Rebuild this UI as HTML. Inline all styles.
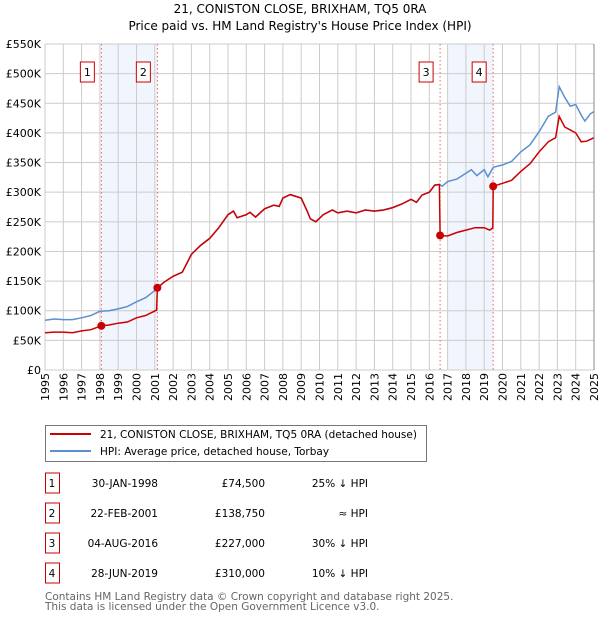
<!DOCTYPE html>
<html><head><meta charset="utf-8"><style>
body{margin:0;background:#fff;font-family:"DejaVu Sans","Liberation Sans",sans-serif;}
svg text{font-family:"DejaVu Sans","Liberation Sans",sans-serif;}
</style></head><body>
<svg id="chart" width="600" height="620" xmlns="http://www.w3.org/2000/svg">
<text x="300" y="13" text-anchor="middle" font-size="12">21, CONISTON CLOSE, BRIXHAM, TQ5 0RA</text>
<text x="300" y="30" text-anchor="middle" font-size="12">Price paid vs. HM Land Registry's House Price Index (HPI)</text>
<g id="plot"></g>
<g>
<rect x="45.5" y="425.5" width="381" height="36" fill="#fff" stroke="#777"/>
<line x1="50" y1="434" x2="91" y2="434" stroke="#cc0000" stroke-width="2"/>
<text x="100" y="438" font-size="10.5">21, CONISTON CLOSE, BRIXHAM, TQ5 0RA (detached house)</text>
<line x1="50" y1="451" x2="91" y2="451" stroke="#5b8fd0" stroke-width="2"/>
<text x="100" y="455" font-size="10.5">HPI: Average price, detached house, Torbay</text>
</g>
<g id="table"></g>
<text x="45" y="600" font-size="10.5" fill="#666">Contains HM Land Registry data © Crown copyright and database right 2025.</text>
<text x="45" y="610" font-size="10.5" fill="#666">This data is licensed under the Open Government Licence v3.0.</text>
</svg>
<script>
const yTicks=[0,50,100,150,200,250,300,350,400,450,500,550];
const yTickLabels=["£0","£50K","£100K","£150K","£200K","£250K","£300K","£350K","£400K","£450K","£500K","£550K"];
const years=[1995,1996,1997,1998,1999,2000,2001,2002,2003,2004,2005,2006,2007,2008,2009,2010,2011,2012,2013,2014,2015,2016,2017,2018,2019,2020,2021,2022,2023,2024,2025];
const hpiDates=[1995,1995.5,1996,1996.5,1997,1997.5,1998,1998.5,1999,1999.5,2000,2000.5,2001,2001.5,2002,2002.5,2003,2003.5,2004,2004.5,2005,2005.3,2005.5,2006,2006.2,2006.5,2007,2007.5,2007.8,2008,2008.4,2008.8,2009,2009.3,2009.5,2009.8,2010.2,2010.7,2011,2011.5,2012,2012.5,2013,2013.5,2014,2014.5,2015,2015.3,2015.6,2016,2016.3,2016.58,2016.7,2017,2017.5,2018,2018.3,2018.6,2019,2019.2,2019.5,2020,2020.5,2021,2021.5,2022,2022.5,2022.9,2023.1,2023.4,2023.7,2024,2024.3,2024.5,2024.8,2025];
const hpiValues=[84,86,85,85,88,92,99,100,103,107,115,122,134,148,158,165,195,210,222,240,262,268,257,262,266,258,272,278,276,290,296,292,290,270,255,250,262,270,265,268,265,270,268,270,274,280,288,283,295,300,312,313,310,318,322,332,338,328,338,326,342,346,352,368,380,402,428,435,478,460,445,448,430,420,432,436];
const priceDates=[1995,1995.5,1996,1996.5,1997,1997.5,1998.08,1998.5,1999,1999.5,2000,2000.5,2001.1,2001.14,2001.5,2002,2002.5,2003,2003.5,2004,2004.5,2005,2005.3,2005.5,2006,2006.2,2006.5,2007,2007.5,2007.8,2008,2008.4,2008.8,2009,2009.3,2009.5,2009.8,2010.2,2010.7,2011,2011.5,2012,2012.5,2013,2013.5,2014,2014.5,2015,2015.3,2015.6,2016,2016.3,2016.55,2016.59,2017,2017.5,2018,2018.5,2019,2019.3,2019.47,2019.49,2020,2020.5,2021,2021.5,2022,2022.5,2022.9,2023.1,2023.4,2023.7,2024,2024.3,2024.6,2025];
const priceValues=[63,64,64,63,66,68,74.5,76,79,81,88,92,101,138.75,148,158,165,195,210,222,240,262,268,257,262,266,258,272,278,276,290,296,292,290,270,255,250,262,270,265,268,265,270,268,270,274,280,288,283,295,300,312,313,227,226,232,236,240,240,236,240,310,315,320,335,348,368,385,392,428,410,405,400,385,386,392];
const saleDates=[1998.08,2001.14,2016.59,2019.49];
const saleValues=[74.5,138.75,227,310];
const saleLabels=["1","2","3","4"];
const saleDateText=["30-JAN-1998","22-FEB-2001","04-AUG-2016","28-JUN-2019"];
const salePriceText=["£74,500","£138,750","£227,000","£310,000"];
const saleHpiText=["25% ↓ HPI","≈ HPI","30% ↓ HPI","10% ↓ HPI"];
const shadeRanges=[[1998.08,2001.14],[2017.0,2019.49]];

const NS="http://www.w3.org/2000/svg";
const X0=45,X1=594,Y0=370,Y1=44;
const xs=d=>X0+(d-1995)/30*(X1-X0);
const ys=v=>Y0-v/550*(Y0-Y1);
const plot=document.getElementById('plot');
function mk(tag,attrs,parent){const e=document.createElementNS(NS,tag);for(const k in attrs)e.setAttribute(k,attrs[k]);(parent||plot).appendChild(e);return e;}
mk('rect',{x:X0,y:Y1,width:X1-X0,height:Y0-Y1,fill:'#fff'});
shadeRanges.forEach(r=>{const e=mk('rect',{x:xs(r[0]),y:Y1,width:xs(r[1])-xs(r[0]),height:Y0-Y1,fill:'#eef3fc',opacity:0.8});

});
years.forEach(y=>{const g=mk('line',{x1:xs(y),x2:xs(y),y1:Y1,y2:Y0,stroke:'#ccc','stroke-width':1});


const tx=xs(y)+4, ty=Y0+31;
const t=mk('text',{x:tx,y:ty,'font-size':11,transform:'rotate(-90 '+tx.toFixed(1)+' '+ty+')'});


t.textContent=y;});
yTicks.forEach((v,i)=>{const g=mk('line',{x1:X0,x2:X1,y1:ys(v),y2:ys(v),stroke:'#ccc','stroke-width':1});


const t=mk('text',{x:X0-4,y:ys(v)+4,'font-size':11,'text-anchor':'end'});


t.textContent=yTickLabels[i];});
saleDates.forEach((d,i)=>{const l=mk('line',{x1:xs(d),x2:xs(d),y1:Y1,y2:Y0,stroke:'#f06060','stroke-width':1,'stroke-dasharray':'1.5,2.5'});


const b=mk('rect',{x:xs(d)-21,y:62,width:14,height:20,fill:'#fff',stroke:'#cc0000'});


const t=mk('text',{x:xs(d)-14,y:76,'font-size':11,'text-anchor':'middle'});


t.textContent=saleLabels[i];});
const hp=mk('path',{d:hpiDates.map((d,i)=>(i?'L':'M')+xs(d).toFixed(1)+','+ys(hpiValues[i]).toFixed(1)).join(''),fill:'none',stroke:'#5b8fd0','stroke-width':1.5});


const pp=mk('path',{d:priceDates.map((d,i)=>(i?'L':'M')+xs(d).toFixed(1)+','+ys(priceValues[i]).toFixed(1)).join(''),fill:'none',stroke:'#cc0000','stroke-width':1.5});


saleDates.forEach((d,i)=>{const c=mk('circle',{cx:xs(d),cy:ys(saleValues[i]),r:4,fill:'#cc0000'});

});
mk('line',{x1:X1,x2:X1,y1:Y1,y2:Y0,stroke:'#888'});
const tb=document.getElementById('table');
saleLabels.forEach((s,i)=>{const cy=483+i*30;
const b=mk('rect',{x:45.5,y:cy-10,width:14,height:20,fill:'#fff',stroke:'#cc0000'},tb);


const cells=[[52,'middle',s],[158,'end',saleDateText[i]],[265,'end',salePriceText[i]],[368,'end',saleHpiText[i]]];
cells.forEach(c=>{const t=mk('text',{x:c[0],y:cy+4,'font-size':10.5,'text-anchor':c[1]},tb);


t.textContent=c[2];});});
</script>
</body></html>
